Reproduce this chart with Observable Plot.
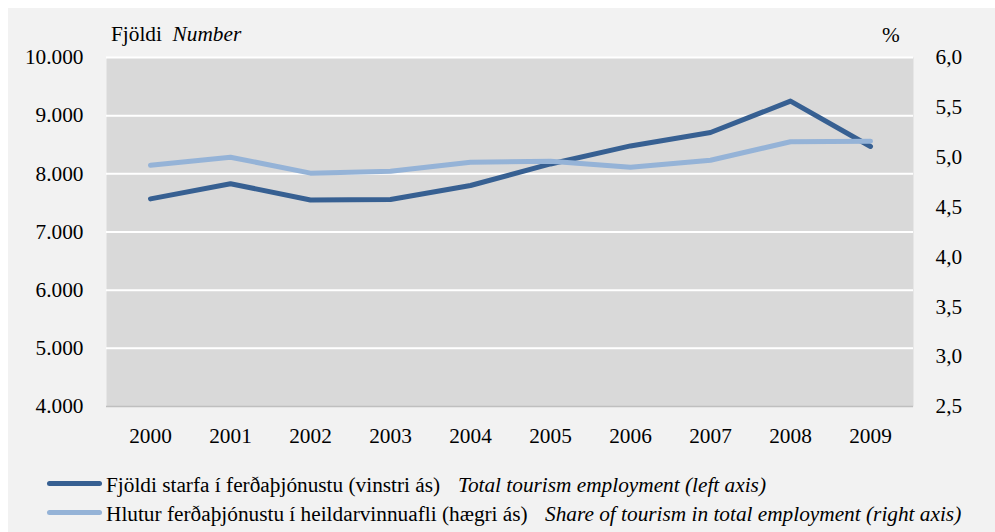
<!DOCTYPE html>
<html>
<head>
<meta charset="utf-8">
<script src="https://cdn.jsdelivr.net/npm/d3@7"></script>
<script src="https://cdn.jsdelivr.net/npm/@observablehq/plot@0.6"></script>
<style>
  html, body { margin: 0; padding: 0; background: #ffffff; }
  * { font-family: 'Liberation Serif', serif !important; }
  body { width: 995px; height: 532px; position: relative; overflow: hidden; color: #000; }
  #bg { position: absolute; left: 8px; top: 8px; width: 987px; height: 524px; background: #f2f2f2; }
  #chart { position: absolute; left: 0; top: 0; }
  .t { position: absolute; font-size: 21.3px; line-height: 20px; white-space: nowrap; }
  .i { font-style: italic; }
  .sw { position: absolute; left: 47px; width: 55px; height: 5px; border-radius: 3px; }
</style>
</head>
<body>
<div id="bg"></div>
<div id="chart"></div>
<div class="t" style="left:111px; top:24px;">Fjöldi&nbsp; <span class="i">Number</span></div>
<div class="t" style="left:882px; top:25px;">%</div>

<div class="sw" style="top:481px; background:#376092;"></div>
<div class="t" style="left:106px; top:474.5px;">Fjöldi starfa í ferðaþjónustu (vinstri ás)</div>
<div class="t i" style="left:458px; top:474.5px;">Total tourism employment (left axis)</div>

<div class="sw" style="top:510px; background:#95b3d7;"></div>
<div class="t" style="left:106px; top:503.5px;">Hlutur ferðaþjónustu í heildarvinnuafli (hægri ás)</div>
<div class="t i" style="left:545px; top:503.5px;">Share of tourism in total employment (right axis)</div>

<script>
// Data
const years = ["2000","2001","2002","2003","2004","2005","2006","2007","2008","2009"];
const employment = [7570, 7830, 7550, 7560, 7800, 8170, 8480, 8710, 9250, 8470];   // left axis (number)
const share = [4.92, 5.00, 4.84, 4.86, 4.95, 4.96, 4.90, 4.97, 5.155, 5.16];       // right axis (%)
const leftTicks = [4000, 5000, 6000, 7000, 8000, 9000, 10000];
const rightTicks = [2.5, 3.0, 3.5, 4.0, 4.5, 5.0, 5.5, 6.0];

const leftDomain = [4000, 10000];
const rightDomain = [2.5, 6.0];
// map right-axis values into left-axis units (dual axis)
const toLeft = d3.scaleLinear().domain(rightDomain).range(leftDomain);

const empData = years.map((y, i) => ({year: y, value: employment[i]}));
const shareData = years.map((y, i) => ({year: y, value: toLeft(share[i])}));

const fmtLeft = d => d3.format(",")(d).replace(/,/g, ".");
const fmtRight = d => d3.format(".1f")(toLeft.invert(d)).replace(".", ",");

const chart = Plot.plot({
  width: 995,
  height: 460,
  marginLeft: 106,
  marginRight: 82,
  marginTop: 57,
  marginBottom: 54,
  style: { background: "transparent", fontFamily: "'Liberation Serif', serif", fontSize: "21.3px", color: "#000", overflow: "visible" },
  x: { type: "point", domain: years, padding: 0.5, label: null },
  y: { domain: leftDomain, label: null },
  marks: [
    Plot.frame({ fill: "#d9d9d9", stroke: null }),
    Plot.ruleY(leftTicks.filter(d => d > 4000), { stroke: "#ffffff", strokeWidth: 2 }),
    Plot.ruleY([4000], { stroke: "#bfbfbf", strokeWidth: 1.5 }),
    Plot.axisY(leftTicks, { anchor: "left", tickSize: 0, tickPadding: 23, tickFormat: fmtLeft, label: null, fontSize: 21.3 }),
    Plot.axisY(rightTicks.map(toLeft), { anchor: "right", tickSize: 0, tickPadding: 22, tickFormat: fmtRight, label: null, fontSize: 21.3, textAnchor: "start" }),
    Plot.axisX({ tickSize: 0, tickPadding: 21, label: null, fontSize: 21.3 }),
    Plot.line(empData, { x: "year", y: "value", stroke: "#376092", strokeWidth: 5, strokeLinecap: "round", strokeLinejoin: "round" }),
    Plot.line(shareData, { x: "year", y: "value", stroke: "#95b3d7", strokeWidth: 5, strokeLinecap: "round", strokeLinejoin: "round" })
  ]
});
document.getElementById("chart").appendChild(chart);
</script>
</body>
</html>
